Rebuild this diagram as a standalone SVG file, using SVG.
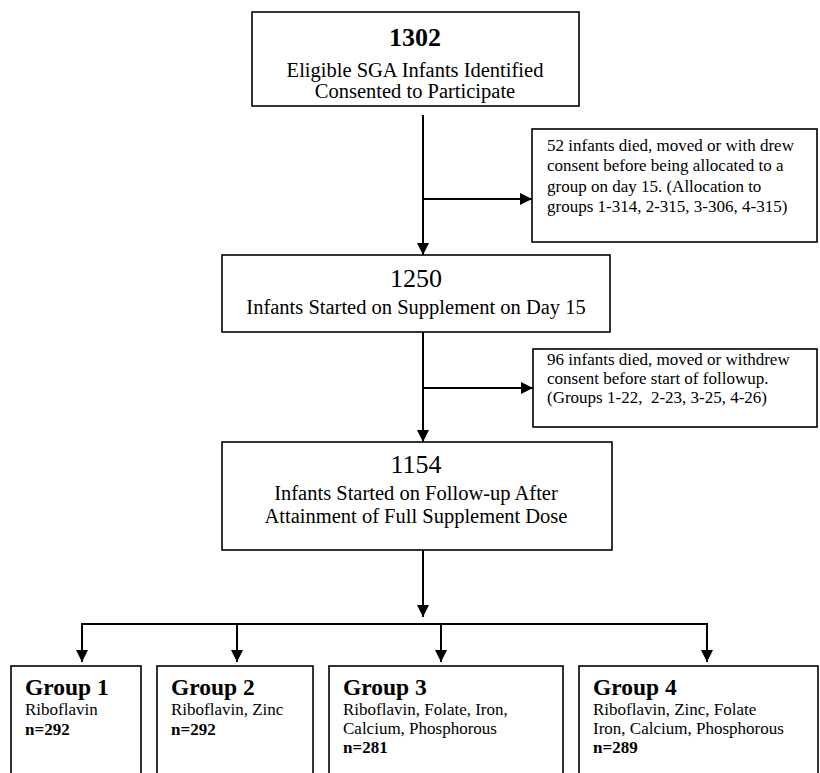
<svg xmlns="http://www.w3.org/2000/svg" width="820" height="773" viewBox="0 0 820 773" font-family="'Liberation Serif', 'Times New Roman', Times, serif">
<defs>
<style>
.box{fill:#fff;stroke:#000;stroke-width:1.6}
.ln{fill:none;stroke:#000;stroke-width:2}
text{font-family:'Liberation Serif','Times New Roman',Times,serif;fill:#000}
.big{font-size:26px;text-anchor:middle}
.main{font-size:20.5px;text-anchor:middle}
.side{font-size:17px}
.gh{font-size:23.5px;font-weight:bold}
.gt{font-size:17px}
.gn{font-size:17px;font-weight:bold}
</style>
<marker id="arr" viewBox="0 0 12 12" refX="12" refY="6" markerWidth="12" markerHeight="12" markerUnits="userSpaceOnUse" orient="auto">
<path d="M0,0 L12,6 L0,12 z" fill="#000"/>
</marker>
</defs>
<rect width="820" height="773" fill="#fff"/>
<g id="connectors">
<line class="ln" x1="423" y1="115" x2="423" y2="255" marker-end="url(#arr)"/>
<line class="ln" x1="423" y1="199" x2="532" y2="199" marker-end="url(#arr)"/>
<line class="ln" x1="423" y1="332" x2="423" y2="442" marker-end="url(#arr)"/>
<line class="ln" x1="423" y1="388" x2="533" y2="388" marker-end="url(#arr)"/>
<line class="ln" x1="423" y1="550" x2="423" y2="617" marker-end="url(#arr)"/>
<line class="ln" x1="81" y1="624" x2="708" y2="624"/>
<line class="ln" x1="82" y1="624" x2="82" y2="662" marker-end="url(#arr)"/>
<line class="ln" x1="237" y1="624" x2="237" y2="662" marker-end="url(#arr)"/>
<line class="ln" x1="441" y1="624" x2="441" y2="662" marker-end="url(#arr)"/>
<line class="ln" x1="707" y1="624" x2="707" y2="662" marker-end="url(#arr)"/>
</g>
<g id="n1302">
<rect class="box" x="252" y="12" width="327" height="94"/>
<text class="big" x="415" y="46" font-weight="bold">1302</text>
<text class="main" x="415" y="77">Eligible SGA Infants Identified</text>
<text class="main" x="415" y="98">Consented to Participate</text>
</g>
<g id="excl1">
<rect class="box" x="532" y="129" width="285" height="113"/>
<text class="side" x="547" y="151">52 infants died, moved or with drew</text>
<text class="side" x="547" y="171">consent before being allocated to a</text>
<text class="side" x="547" y="192">group on day 15. (Allocation to</text>
<text class="side" x="547" y="212">groups 1-314, 2-315, 3-306, 4-315)</text>
</g>
<g id="n1250">
<rect class="box" x="222" y="255" width="388" height="77"/>
<text class="big" x="416" y="287">1250</text>
<text class="main" x="416" y="314">Infants Started on Supplement on Day 15</text>
</g>
<g id="excl2">
<rect class="box" x="533" y="349" width="284" height="78"/>
<text class="side" x="547" y="365">96 infants died, moved or withdrew</text>
<text class="side" x="547" y="384">consent before start of followup.</text>
<text class="side" x="547" y="403" xml:space="preserve">(Groups 1-22,  2-23, 3-25, 4-26)</text>
</g>
<g id="n1154">
<rect class="box" x="222" y="442" width="390" height="108"/>
<text class="big" x="416" y="473">1154</text>
<text class="main" x="416" y="500">Infants Started on Follow-up After</text>
<text class="main" x="416" y="523">Attainment of Full Supplement Dose</text>
</g>
<g id="group1">
<rect class="box" x="11" y="666" width="130" height="120"/>
<text class="gh" x="25" y="695">Group 1</text>
<text class="gt" x="25" y="715">Riboflavin</text>
<text class="gn" x="25" y="735">n=292</text>
</g>
<g id="group2">
<rect class="box" x="157" y="666" width="156" height="120"/>
<text class="gh" x="171" y="695">Group 2</text>
<text class="gt" x="171" y="715">Riboflavin, Zinc</text>
<text class="gn" x="171" y="735">n=292</text>
</g>
<g id="group3">
<rect class="box" x="329" y="666" width="234" height="120"/>
<text class="gh" x="343" y="695">Group 3</text>
<text class="gt" x="343" y="715">Riboflavin, Folate, Iron,</text>
<text class="gt" x="343" y="734">Calcium, Phosphorous</text>
<text class="gn" x="343" y="753">n=281</text>
</g>
<g id="group4">
<rect class="box" x="579" y="666" width="239" height="120"/>
<text class="gh" x="593" y="695">Group 4</text>
<text class="gt" x="593" y="715">Riboflavin, Zinc, Folate</text>
<text class="gt" x="593" y="734">Iron, Calcium, Phosphorous</text>
<text class="gn" x="593" y="753">n=289</text>
</g>
</svg>
